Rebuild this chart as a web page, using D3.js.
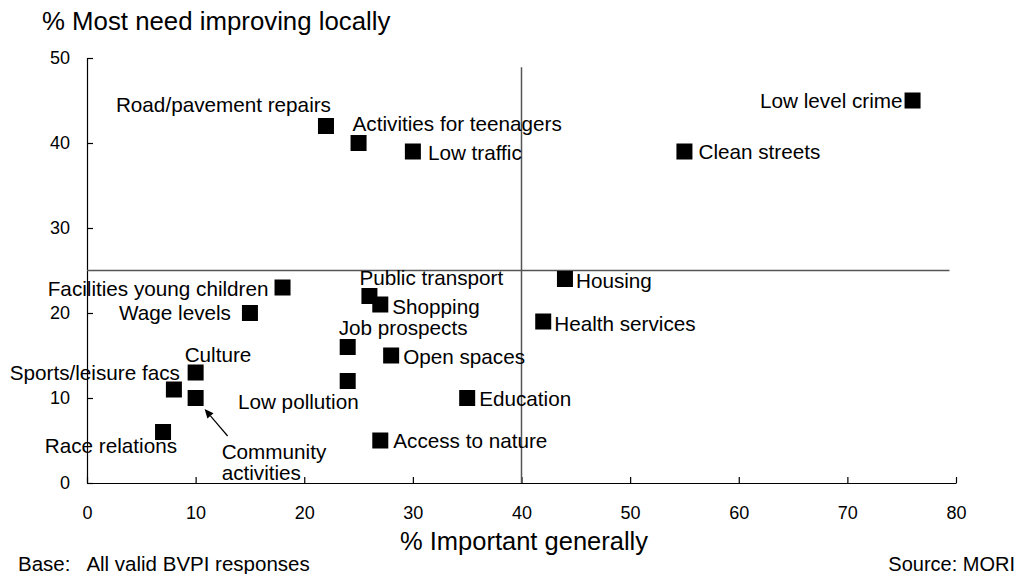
<!DOCTYPE html>
<html>
<head>
<meta charset="utf-8">
<script src="https://cdn.jsdelivr.net/npm/d3@7"></script>
<style>
  html, body { margin: 0; padding: 0; background: #fff; }
  svg { display: block; font-family: "Liberation Sans", Arial, sans-serif; }
</style>
</head>
<body>
<svg id="chart" width="1021" height="574"></svg>
<script>
// Service priorities: importance in general vs. need for local improvement
const services = [
  "Low level crime", "Clean streets", "Road/pavement repairs", "Activities for teenagers",
  "Low traffic", "Facilities young children", "Wage levels", "Public transport",
  "Shopping", "Housing", "Health services", "Job prospects", "Open spaces",
  "Low pollution", "Education", "Access to nature", "Culture", "Sports/leisure facs",
  "Community activities", "Race relations"
];
const importantGenerally = [76, 55, 22, 25, 30, 18, 15, 26, 27, 44, 42, 24, 28, 24, 35, 27, 10, 8, 10, 7];
const needImprovingLocally = [45, 39, 42, 40, 39, 23, 20, 22, 21, 24, 19, 16, 15, 12, 10, 5, 13, 11, 10, 6];

const xTicks = [0, 10, 20, 30, 40, 50, 60, 70, 80];
const yTicks = [0, 10, 20, 30, 40, 50];

// Quadrant dividers
const dividerX = 40;
const dividerY = 25;

// Label placement around each marker: anchor, offset (px) and optional line breaks
const labelPlacement = {
  "Low level crime":          { anchor: "end",   dx: -10, dy: -1 },
  "Clean streets":            { anchor: "start", dx: 14,  dy: -1 },
  "Road/pavement repairs":    { anchor: "end",   dx: 5,   dy: -22 },
  "Activities for teenagers": { anchor: "start", dx: -6,  dy: -20 },
  "Low traffic":              { anchor: "start", dx: 15,  dy: 0 },
  "Facilities young children":{ anchor: "end",   dx: -14, dy: 0 },
  "Wage levels":              { anchor: "end",   dx: -19, dy: -1 },
  "Public transport":         { anchor: "start", dx: -10, dy: -19 },
  "Shopping":                 { anchor: "start", dx: 12,  dy: 1 },
  "Housing":                  { anchor: "start", dx: 11,  dy: 1 },
  "Health services":          { anchor: "start", dx: 11,  dy: 1 },
  "Job prospects":            { anchor: "start", dx: -9,  dy: -20 },
  "Open spaces":              { anchor: "start", dx: 12,  dy: 0 },
  "Low pollution":            { anchor: "end",   dx: 11,  dy: 20 },
  "Education":                { anchor: "start", dx: 12,  dy: 0 },
  "Access to nature":         { anchor: "start", dx: 13,  dy: -1 },
  "Culture":                  { anchor: "start", dx: -11, dy: -19 },
  "Sports/leisure facs":      { anchor: "end",   dx: 6,   dy: -18 },
  "Community activities":     { anchor: "start", dx: 26,  dy: 53, lines: ["Community", "activities"],
                                arrow: { from: [32, 38], to: [9, 11] } },
  "Race relations":           { anchor: "end",   dx: 14,  dy: 13 }
};

const svg = d3.select("#chart");
const margin = { left: 87, right: 65, top: 58, bottom: 91 };
const W = +svg.attr("width"), H = +svg.attr("height");

const x = d3.scaleLinear().domain([0, 80]).range([margin.left, W - margin.right]);
const y = d3.scaleLinear().domain([0, 50]).range([H - margin.bottom, margin.top]);

const points = services.map((name, i) => ({
  name, x: importantGenerally[i], y: needImprovingLocally[i]
}));

// Axes (ticks drawn inward)
const xAxis = svg.append("g")
  .attr("transform", `translate(0,${y(0)})`)
  .call(d3.axisBottom(x).tickValues(xTicks).tickSizeInner(-6).tickSizeOuter(0).tickPadding(23));
const yAxis = svg.append("g")
  .attr("transform", `translate(${x(0)},0)`)
  .call(d3.axisLeft(y).tickValues(yTicks).tickSizeInner(-6).tickSizeOuter(0).tickPadding(17));

[xAxis, yAxis].forEach(g => {
  g.selectAll("path, line").attr("stroke", "#000").attr("stroke-width", 1.2);
  g.selectAll("text").attr("font-size", 18).attr("fill", "#000")
    .attr("font-family", "'Liberation Sans', Arial, sans-serif");
});

// Quadrant divider lines
svg.append("line")
  .attr("x1", x(0)).attr("x2", x(79.4))
  .attr("y1", y(dividerY)).attr("y2", y(dividerY))
  .attr("stroke", "#555").attr("stroke-width", 1.5);
svg.append("line")
  .attr("x1", x(dividerX)).attr("x2", x(dividerX))
  .attr("y1", y(0)).attr("y2", y(48.9))
  .attr("stroke", "#555").attr("stroke-width", 1.5);

// Markers
const size = 16;
svg.append("g").selectAll("rect").data(points).join("rect")
  .attr("x", d => x(d.x) - size / 2)
  .attr("y", d => y(d.y) - size / 2)
  .attr("width", size).attr("height", size)
  .attr("fill", "#000");

// Labels
const labels = svg.append("g").attr("font-size", 20.7).attr("fill", "#000");
points.forEach(d => {
  const p = labelPlacement[d.name];
  const lines = p.lines || [d.name];
  const t = labels.append("text")
    .attr("text-anchor", p.anchor)
    .attr("x", x(d.x) + p.dx)
    .attr("y", y(d.y) + p.dy)
    .attr("dominant-baseline", "central");
  lines.forEach((ln, i) => {
    t.append("tspan").attr("x", x(d.x) + p.dx).attr("dy", i === 0 ? 0 : 21).text(ln);
  });
  if (p.arrow) {
    const x1 = x(d.x) + p.arrow.from[0], y1 = y(d.y) + p.arrow.from[1];
    const x2 = x(d.x) + p.arrow.to[0], y2 = y(d.y) + p.arrow.to[1];
    const ang = Math.atan2(y2 - y1, x2 - x1);
    const hl = 9, hw = 4;
    const bx = x2 - hl * Math.cos(ang), by = y2 - hl * Math.sin(ang);
    svg.append("line").attr("x1", x1).attr("y1", y1).attr("x2", bx).attr("y2", by)
      .attr("stroke", "#000").attr("stroke-width", 1.2);
    svg.append("path")
      .attr("d", `M${x2},${y2}L${bx - hw * Math.sin(ang)},${by + hw * Math.cos(ang)}L${bx + hw * Math.sin(ang)},${by - hw * Math.cos(ang)}Z`)
      .attr("fill", "#000");
  }
});

// Titles and notes
svg.append("text").attr("x", 42).attr("y", 30).attr("font-size", 25.8).text("% Most need improving locally");
svg.append("text").attr("x", 524).attr("y", 550).attr("text-anchor", "middle")
  .attr("font-size", 25.5).text("% Important generally");
svg.append("text").attr("x", 18).attr("y", 571).attr("font-size", 20.5)
  .attr("xml:space", "preserve").text("Base:   All valid BVPI responses");
svg.append("text").attr("x", 1015).attr("y", 571).attr("font-size", 20).attr("text-anchor", "end")
  .text("Source: MORI");
</script>
</body>
</html>
